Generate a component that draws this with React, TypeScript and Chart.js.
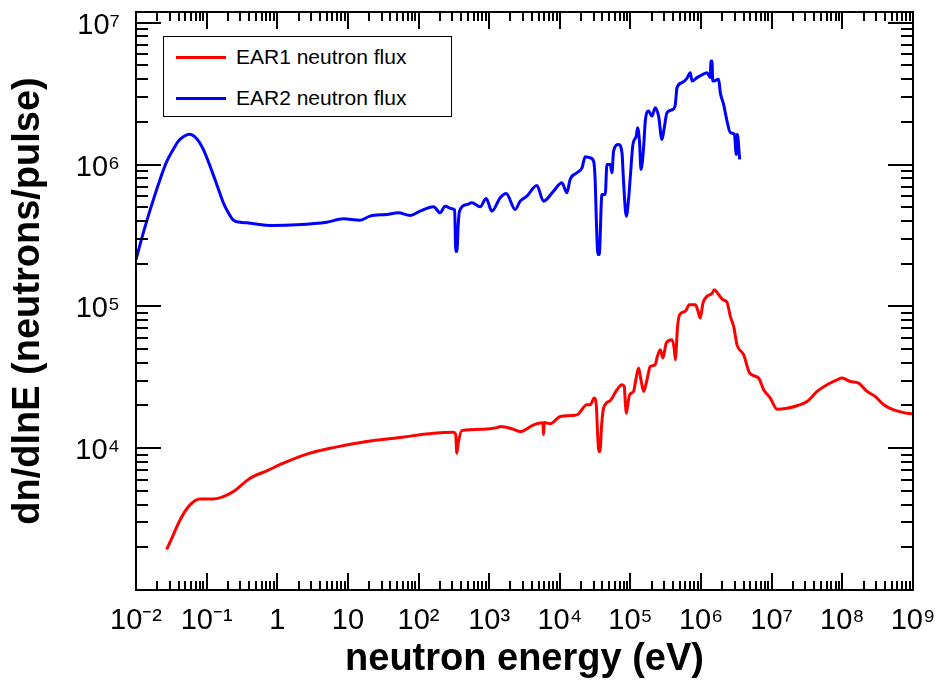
import React, { useEffect, useRef } from 'react';
import { Chart, registerables } from 'chart.js';

Chart.register(...registerables);

// ---- Data ----
const SERIES_NAMES = ['EAR1 neutron flux', 'EAR2 neutron flux'];

// EAR1 (red): neutron energy (eV)
const EAR1_ENERGY = [
  2.72e-2, 3.21e-2, 4.2e-2, 5.82e-2, 8.07e-2, 0.1245, 0.1726, 0.239, 0.412, 0.71,
  1.219, 2.618, 6.24, 18.5, 54.8, 105, 163, 312, 335, 348,
  363, 409, 830, 1285, 1432, 2208, 2748, 4246, 5754, 5875,
  6026, 7311, 1.014e4, 1.746e4,
  2.421e4, 2.698e4, 3.069e4, 3.281e4, 3.428e4, 3.589e4, 3.733e4, 3.89e4, 4.159e4, 5.176e4,
  6.442e4, 7.586e4, 8.166e4, 8.511e4, 8.73e4, 9.12e4, 9.705e4, 1.107e5, 1.169e5, 1.303e5,
  1.409e5, 1.535e5, 1.714e5, 1.905e5, 2.244e5, 2.371e5, 2.642e5, 2.884e5, 3.214e5, 3.873e5,
  4.169e5, 4.315e5, 4.645e5, 4.966e5, 5.97e5, 6.808e5, 8.279e5, 8.913e5, 9.75e5, 1.064e6,
  1.211e6, 1.426e6, 1.538e6, 1.77e6, 2.042e6, 2.328e6, 2.594e6, 2.891e6, 3.228e6, 4.0e6,
  4.864e6,
  6.531e6, 7.691e6, 9.55e6, 1.189e7, 1.648e7, 2.28e7, 3.162e7, 4.385e7, 6.067e7, 8.414e7,
  9.886e7, 1.297e8, 1.702e8, 2.239e8, 2.931e8, 3.846e8, 5.333e8, 7.379e8, 9.683e8,
];
// EAR1 (red): dn/dlnE (neutrons/pulse)
const EAR1_FLUX = [
  1936, 2312, 3119, 3981, 4385, 4385, 4550, 4943, 6138, 6918,
  7834, 9078, 1.009e4, 1.114e4, 1.189e4, 1.242e4, 1.276e4, 1.297e4, 1.259e4, 9226,
  1.072e4, 1.33e4, 1.361e4, 1.396e4, 1.422e4, 1.361e4, 1.309e4, 1.462e4, 1.514e4, 1.242e4,
  1.517e4, 1.486e4, 1.671e4, 1.718e4,
  2.023e4, 2.023e4, 2.254e4, 2.023e4, 1.259e4, 9462, 9772, 1.413e4, 1.914e4, 2.168e4,
  2.582e4, 2.799e4, 2.723e4, 1.995e4, 1.766e4, 1.995e4, 2.377e4, 2.512e4, 2.877e4, 3.673e4,
  3.034e4, 2.512e4, 3.034e4, 3.767e4, 3.873e4, 4.325e4, 4.943e4, 4.325e4, 5.521e4, 5.821e4,
  5.012e4, 4.207e4, 7.228e4, 8.73e4, 9.226e4, 1.028e5, 1.028e5, 9.484e4, 8.279e4, 1.057e5,
  1.178e5, 1.23e5, 1.312e5, 1.211e5, 1.114e5, 1.067e5, 8.492e4, 7.228e4, 5.358e4, 4.56e4,
  3.388e4,
  3.119e4, 2.582e4, 2.254e4, 1.884e4, 1.914e4, 1.991e4, 2.133e4, 2.512e4, 2.799e4, 3.034e4,
  3.119e4, 2.951e4, 2.877e4, 2.512e4, 2.312e4, 2.023e4, 1.862e4, 1.782e4, 1.746e4,
];

// EAR2 (blue): neutron energy (eV)
const EAR2_ENERGY = [
  1.0e-2, 1.268e-2, 1.585e-2, 2.19e-2, 2.72e-2, 3.37e-2, 3.98e-2, 4.68e-2, 5.69e-2, 7.24e-2,
  8.97e-2, 0.1117, 0.139, 0.1726, 0.203, 0.239, 0.297, 0.37, 0.881, 1.888,
  5.02, 8.63, 14.9, 20.6, 35.6, 51.9, 76.0, 105, 163, 202,
  238, 296, 324, 337, 351, 363, 380, 483, 569, 746,
  906, 1091, 1432, 1742, 2333, 2748, 3420, 4732, 5875, 8147,
  1.07e4, 1.26e4, 1.4e4, 1.75e4, 2.06e4, 2.29e4, 2.64e4,
  3.006e4, 3.17e4, 3.281e4, 3.467e4, 3.614e4, 3.945e4, 4.395e4, 4.645e4, 5.176e4, 5.47e4,
  5.768e4, 6.792e4, 7.586e4, 7.98e4, 8.73e4, 9.397e4, 9.931e4, 1.084e5, 1.208e5, 1.262e5,
  1.346e5, 1.409e5, 1.535e5, 1.622e5, 1.803e5, 2.014e5, 2.244e5, 2.5e5, 2.793e5, 3.013e5,
  3.289e5, 3.999e5, 4.315e5, 4.56e5, 5.37e5, 6.31e5, 7.031e5, 7.43e5, 8.75e5, 1.03e6,
  1.211e6, 1.349e6, 1.38e6, 1.426e6, 1.462e6, 1.507e6, 1.77e6, 1.871e6, 2.084e6, 2.328e6,
  2.594e6, 2.958e6, 3.155e6, 3.258e6, 3.516e6,
];
// EAR2 (blue): dn/dlnE (neutrons/pulse)
const EAR2_FLUX = [
  2.14e5, 3.3e5, 4.786e5, 7.85e5, 1.047e6, 1.279e6, 1.462e6, 1.57e6, 1.633e6, 1.521e6,
  1.279e6, 9.75e5, 7.24e5, 5.37e5, 4.57e5, 4.05e5, 3.92e5, 3.88e5, 3.72e5, 3.76e5,
  3.92e5, 4.14e5, 4.05e5, 4.33e5, 4.45e5, 4.57e5, 4.37e5, 4.69e5, 5.04e5, 4.57e5,
  5.08e5, 4.88e5, 4.79e5, 2.44e5, 2.45e5, 3.63e5, 4.69e5, 5.22e5, 5.37e5, 5.04e5,
  5.77e5, 4.69e5, 5.83e5, 6.25e5, 4.82e5, 5.52e5, 5.98e5, 7.11e5, 5.52e5, 6.49e5,
  7.43e5, 6.32e5, 7.85e5, 8.75e5, 9.48e5, 1.135e6, 1.117e6,
  1.057e6, 7.638e5, 4.207e5, 2.317e5, 2.317e5, 6.152e5, 6.152e5, 1.002e6, 1.002e6, 8.75e5,
  1.245e6, 1.387e6, 1.211e6, 7.638e5, 4.325e5, 5.675e5, 8.072e5, 1.387e6, 1.589e6, 1.82e6,
  1.426e6, 9.226e5, 1.315e6, 2.028e6, 2.382e6, 2.198e6, 2.518e6, 2.198e6, 1.503e6, 1.82e6,
  2.323e6, 2.449e6, 2.655e6, 3.483e6, 3.784e6, 4.055e6, 4.446e6, 3.882e6, 4.102e6, 4.285e6,
  4.446e6, 4.102e6, 5.37e6, 5.37e6, 3.882e6, 3.882e6, 3.99e6, 3.214e6, 2.655e6, 2.028e6,
  1.679e6, 1.633e6, 1.178e6, 1.633e6, 1.086e6,
];

// Axis ticks
const X_TICK_VALUES = [1e-2, 1e-1, 1, 10, 1e2, 1e3, 1e4, 1e5, 1e6, 1e7, 1e8, 1e9];
const X_TICK_LABELS = ['10⁻²', '10⁻¹', '1', '10', '10²', '10³', '10⁴', '10⁵', '10⁶', '10⁷', '10⁸', '10⁹'];
const Y_TICK_VALUES = [1e3, 1e4, 1e5, 1e6, 1e7];
const Y_TICK_LABELS = ['', '10⁴', '10⁵', '10⁶', '10⁷'];

const X_TITLE = 'neutron energy (eV)';
const Y_TITLE = 'dn/dlnE (neutrons/pulse)';

const COLORS = ['#ff0000', '#0000ff'];
const FONT = "'Liberation Sans', Arial, Helvetica, sans-serif";

function isDecade(v: number) {
  const l = Math.log10(v);
  return Math.abs(l - Math.round(l)) < 1e-6;
}

function logTicks(min: number, max: number) {
  const out: { value: number }[] = [];
  const lo = Math.floor(Math.log10(min));
  const hi = Math.ceil(Math.log10(max));
  for (let e = lo; e <= hi; e++) {
    for (let k = 1; k <= 9; k++) {
      const v = k * Math.pow(10, e);
      if (v >= min * (1 - 1e-9) && v <= max * (1 + 1e-9)) out.push({ value: v });
    }
  }
  return out;
}

function labelFor(values: number[], labels: string[], v: number) {
  const i = values.findIndex((d) => Math.abs(d - v) / d < 1e-6);
  return i >= 0 ? labels[i] : '';
}

const framePlugin = {
  id: 'rootFrame',
  afterDatasetsDraw(chart: any) {
    const { ctx, chartArea: a, scales } = chart;
    ctx.save();
    ctx.strokeStyle = '#000';
    ctx.lineWidth = 2;
    ctx.beginPath();
    for (const t of scales.x.ticks) {
      const p = Math.round(scales.x.getPixelForValue(t.value));
      const len = isDecade(t.value) ? 17 : 9;
      ctx.moveTo(p, a.bottom);
      ctx.lineTo(p, a.bottom - len);
      ctx.moveTo(p, a.top);
      ctx.lineTo(p, a.top + len);
    }
    for (const t of scales.y.ticks) {
      const p = Math.round(scales.y.getPixelForValue(t.value));
      const len = isDecade(t.value) ? 25 : 12;
      ctx.moveTo(a.left, p);
      ctx.lineTo(a.left + len, p);
      ctx.moveTo(a.right, p);
      ctx.lineTo(a.right - len, p);
    }
    ctx.stroke();
    ctx.strokeRect(a.left, a.top, a.right - a.left, a.bottom - a.top);
    ctx.restore();
  },
};

export default function App() {
  const canvasRef = useRef<HTMLCanvasElement | null>(null);

  useEffect(() => {
    if (!canvasRef.current) return;
    const mk = (xs: number[], ys: number[]) => xs.map((x, i) => ({ x, y: ys[i] }));
    const chart = new Chart(canvasRef.current, {
      type: 'line',
      data: {
        datasets: [
          {
            label: SERIES_NAMES[0],
            data: mk(EAR1_ENERGY, EAR1_FLUX),
            borderColor: COLORS[0],
            backgroundColor: COLORS[0],
            borderWidth: 3,
            pointRadius: 0,
            cubicInterpolationMode: 'monotone',
            fill: false,
          },
          {
            label: SERIES_NAMES[1],
            data: mk(EAR2_ENERGY, EAR2_FLUX),
            borderColor: COLORS[1],
            backgroundColor: COLORS[1],
            borderWidth: 3,
            pointRadius: 0,
            cubicInterpolationMode: 'monotone',
            fill: false,
          },
        ],
      },
      options: {
        animation: false,
        responsive: false,
        maintainAspectRatio: false,
        layout: { padding: { left: 0, top: 12, right: 24, bottom: 0 } },
        plugins: {
          legend: { display: false },
          tooltip: { enabled: false },
        },
        scales: {
          x: {
            type: 'logarithmic',
            min: 1e-2,
            max: 1e9,
            grid: { display: false, drawTicks: false },
            border: { display: false },
            afterBuildTicks: (scale: any) => {
              scale.ticks = logTicks(1e-2, 1e9);
            },
            afterFit: (scale: any) => {
              scale.height = 94;
              scale.paddingLeft = 0;
              scale.paddingRight = 0;
            },
            ticks: {
              autoSkip: false,
              maxRotation: 0,
              minRotation: 0,
              padding: 14,
              color: '#000',
              font: { family: FONT, size: 29 },
              callback: (v: any) => labelFor(X_TICK_VALUES, X_TICK_LABELS, Number(v)),
            },
            title: {
              display: true,
              text: X_TITLE,
              color: '#000',
              font: { family: FONT, size: 38, weight: 'bold' },
              padding: { top: 0, bottom: 2 },
            },
          },
          y: {
            type: 'logarithmic',
            min: 1e3,
            max: 1.19e7,
            grid: { display: false, drawTicks: false },
            border: { display: false },
            afterBuildTicks: (scale: any) => {
              scale.ticks = logTicks(1e3, 1.19e7);
            },
            afterFit: (scale: any) => {
              scale.width = 136;
              scale.paddingTop = 0;
              scale.paddingBottom = 0;
            },
            ticks: {
              autoSkip: false,
              padding: 16,
              labelOffset: 3,
              color: '#000',
              font: { family: FONT, size: 29 },
              callback: (v: any) => labelFor(Y_TICK_VALUES, Y_TICK_LABELS, Number(v)),
            },
            title: {
              display: true,
              text: Y_TITLE,
              color: '#000',
              font: { family: FONT, size: 38, weight: 'bold' },
              padding: { top: 6, bottom: 0 },
            },
          },
        },
      },
      plugins: [framePlugin],
    } as any);
    return () => chart.destroy();
  }, []);

  const legendRow = (i: number, top: number) => (
    <div key={i}>
      <div
        style={{
          position: 'absolute',
          left: 12,
          top: top - 1.5,
          width: 50,
          height: 3,
          background: COLORS[i],
        }}
      />
      <div
        style={{
          position: 'absolute',
          left: 72,
          top: top - 13,
          height: 26,
          lineHeight: '26px',
          fontFamily: FONT,
          fontSize: 21,
          color: '#000',
          whiteSpace: 'nowrap',
        }}
      >
        {SERIES_NAMES[i]}
      </div>
    </div>
  );

  return (
    <div style={{ position: 'absolute', left: 0, top: 0, width: 937, height: 684, background: '#fff' }}>
      <canvas ref={canvasRef} width={937} height={684} style={{ display: 'block' }} />
      <div
        style={{
          position: 'absolute',
          left: 163,
          top: 36,
          width: 289,
          height: 81,
          boxSizing: 'border-box',
          border: '1.5px solid #000',
          background: '#fff',
        }}
      >
        {legendRow(0, 20)}
        {legendRow(1, 61)}
      </div>
    </div>
  );
}
